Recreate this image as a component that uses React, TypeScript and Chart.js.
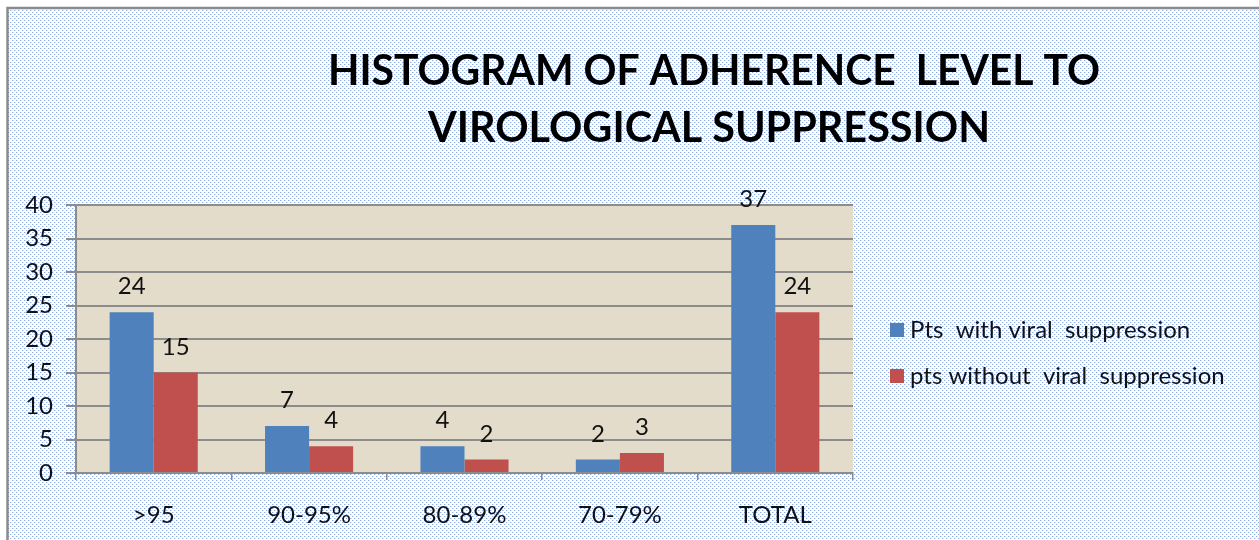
import React, { useEffect, useRef } from "react";
import { Chart, registerables } from "chart.js";

Chart.register(...registerables);

const categories = [">95", "90-95%", "80-89%", "70-79%", "TOTAL"];
const withSuppression = [24, 7, 4, 2, 37];
const withoutSuppression = [15, 4, 2, 3, 24];
const seriesLabels = ["Pts  with viral  suppression", "pts without  viral  suppression"];
const seriesColors = ["#4f81bd", "#c0504d"];
const titleLines = ["HISTOGRAM OF ADHERENCE  LEVEL TO", "VIROLOGICAL SUPPRESSION"];
const yMin = 0;
const yMax = 40;
const yStep = 5;

const FONT = "Lato, 'Open Sans', sans-serif";

function makeDotPattern(ctx: CanvasRenderingContext2D) {
  const tile = document.createElement("canvas");
  tile.width = 4;
  tile.height = 4;
  const t = tile.getContext("2d")!;
  t.fillStyle = "#ffffff";
  t.fillRect(0, 0, 4, 4);
  t.fillStyle = "#d6e2f5";
  t.fillRect(1, 0, 1, 1);
  t.fillRect(3, 2, 1, 1);
  t.fillStyle = "#8eaee2";
  t.fillRect(0, 0, 1, 1);
  t.fillRect(2, 2, 1, 1);
  return ctx.createPattern(tile, "repeat");
}

const backgroundPlugin = {
  id: "bgPlugin",
  beforeDraw(chart: any) {
    const { ctx, width, height, chartArea } = chart;
    ctx.save();
    ctx.fillStyle = "#ffffff";
    ctx.fillRect(0, 0, width, height);
    const pat = makeDotPattern(ctx);
    if (pat) {
      ctx.fillStyle = pat;
      ctx.fillRect(8, 9, width - 8, height - 9);
    }
    ctx.strokeStyle = "#8a8a8a";
    ctx.lineWidth = 2.5;
    ctx.beginPath();
    ctx.moveTo(7.5, height + 5);
    ctx.lineTo(7.5, 8);
    ctx.lineTo(width + 5, 8);
    ctx.stroke();
    ctx.fillStyle = "#e4dccb";
    ctx.fillRect(chartArea.left, chartArea.top, chartArea.right - chartArea.left, chartArea.bottom - chartArea.top);
    ctx.restore();
  },
  afterDatasetsDraw(chart: any) {
    const { ctx } = chart;
    ctx.save();
    ctx.font = `24px ${FONT}`;
    ctx.fillStyle = "#111111";
    ctx.textAlign = "center";
    ctx.textBaseline = "alphabetic";
    chart.data.datasets.forEach((ds: any, di: number) => {
      const meta = chart.getDatasetMeta(di);
      meta.data.forEach((bar: any, i: number) => {
        ctx.fillText(String(ds.data[i]), bar.x, bar.y - 18);
      });
    });
    ctx.restore();
  },
  afterDraw(chart: any) {
    const { ctx } = chart;
    ctx.save();
    // title
    ctx.fillStyle = "#000000";
    ctx.textAlign = "center";
    ctx.textBaseline = "alphabetic";
    ctx.font = `bold 42px ${FONT}`;
    ctx.fillText(titleLines[0], 714, 85, 772);
    ctx.fillText(titleLines[1], 709, 142, 562);
    // legend
    ctx.textAlign = "left";
    ctx.font = `24px ${FONT}`;
    const rows = [330, 376];
    chart.data.datasets.forEach((ds: any, i: number) => {
      const cy = rows[i];
      ctx.fillStyle = ds.backgroundColor;
      ctx.fillRect(890, cy - 7, 14, 14);
      ctx.fillStyle = "#111111";
      ctx.fillText(ds.label, 910, cy + 8, 325);
    });
    ctx.restore();
  },
};

export default function App() {
  const ref = useRef<HTMLCanvasElement | null>(null);
  useEffect(() => {
    document.body.style.margin = "0";
    const canvas = ref.current!;
    const chart = new Chart(canvas, {
      type: "bar",
      data: {
        labels: categories,
        datasets: [
          {
            label: seriesLabels[0],
            data: withSuppression,
            backgroundColor: seriesColors[0],
            barPercentage: 1,
            categoryPercentage: 0.567,
          },
          {
            label: seriesLabels[1],
            data: withoutSuppression,
            backgroundColor: seriesColors[1],
            barPercentage: 1,
            categoryPercentage: 0.567,
          },
        ],
      },
      options: {
        responsive: false,
        animation: false,
        layout: { padding: { left: 0, top: 205, right: 406, bottom: 0 } },
        plugins: {
          legend: { display: false },
          title: { display: false },
          tooltip: { enabled: false },
        },
        scales: {
          x: {
            afterFit: (s: any) => {
              s.height = 67;
            },
            grid: {
              display: true,
              drawOnChartArea: false,
              drawTicks: true,
              tickLength: 7,
              color: "#8c8c8c",
              lineWidth: 1.5,
            },
            border: { display: true, color: "#8c8c8c", width: 2 },
            ticks: {
              color: "#111111",
              font: { family: FONT, size: 24 },
              padding: 21,
              maxRotation: 0,
            },
          },
          y: {
            min: yMin,
            max: yMax,
            afterFit: (s: any) => {
              s.width = 76;
            },
            grid: {
              color: "#8c8c8c",
              lineWidth: 2,
              tickLength: 10,
              drawTicks: true,
            },
            border: { display: true, color: "#8c8c8c", width: 2 },
            ticks: {
              stepSize: yStep,
              color: "#111111",
              font: { family: FONT, size: 24 },
              padding: 13,
            },
          },
        },
      },
      plugins: [backgroundPlugin],
    });
    return () => chart.destroy();
  }, []);
  return (
    <div style={{ width: 1259, height: 540 }}>
      <canvas ref={ref} width={1259} height={540} style={{ display: "block" }} />
    </div>
  );
}
